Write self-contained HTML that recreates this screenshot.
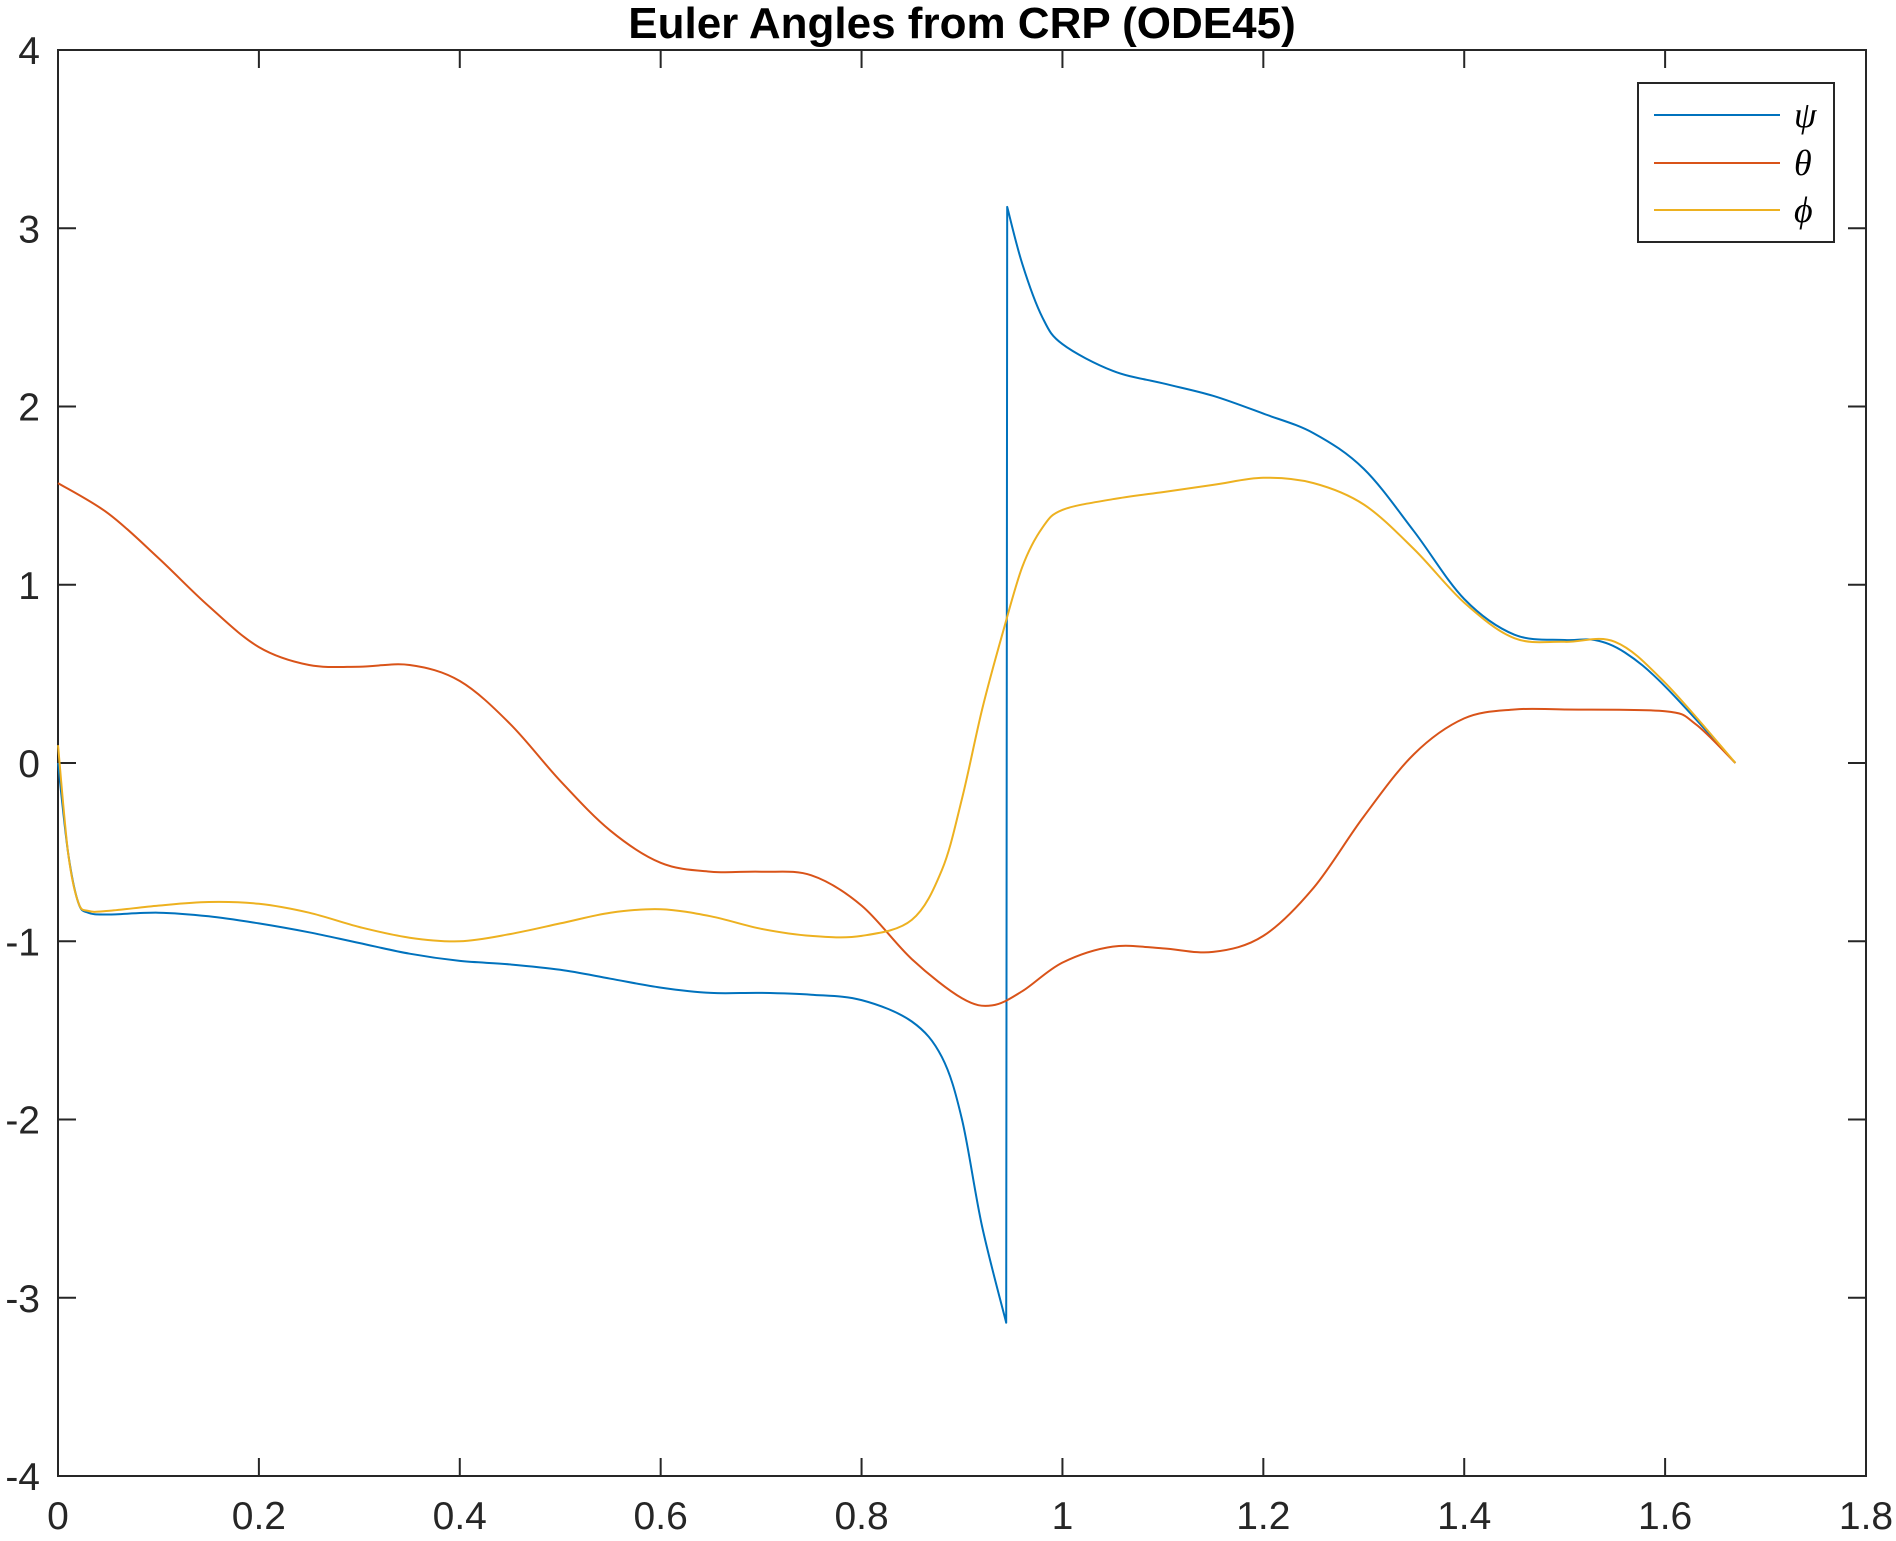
<!DOCTYPE html>
<html><head><meta charset="utf-8"><style>
html,body{margin:0;padding:0;background:#fff}
svg text{font-family:"Liberation Sans",sans-serif;fill:#262626}
</style></head><body>
<svg id="chart" width="1896" height="1536" xmlns="http://www.w3.org/2000/svg">
<rect width="1896" height="1536" fill="#fff"/>
<text x="962" y="38" text-anchor="middle" font-size="44" font-weight="bold" style="fill:#000">Euler Angles from CRP (ODE45)</text>
<g id="plot"></g>
</svg>
<script>
const xTicks=[0,0.2,0.4,0.6,0.8,1,1.2,1.4,1.6,1.8];
const yTicks=[-4,-3,-2,-1,0,1,2,3,4];
const psiT=[0,0.01,0.02,0.03,0.05,0.1,0.15,0.2,0.25,0.3,0.35,0.4,0.45,0.5,0.55,0.6,0.65,0.7,0.75,0.8,0.85,0.88,0.9,0.92,0.944,0.945,0.96,0.98,1.0,1.05,1.1,1.15,1.2,1.25,1.3,1.35,1.4,1.45,1.5,1.53,1.56,1.6,1.67];
const psiV=[0,-0.5,-0.78,-0.84,-0.85,-0.84,-0.86,-0.9,-0.95,-1.01,-1.07,-1.11,-1.13,-1.16,-1.21,-1.26,-1.29,-1.29,-1.3,-1.33,-1.45,-1.65,-2.0,-2.6,-3.14,3.12,2.8,2.5,2.35,2.2,2.13,2.06,1.96,1.85,1.65,1.3,0.92,0.72,0.69,0.69,0.62,0.43,0];
const thetaT=[0,0.05,0.1,0.15,0.2,0.25,0.3,0.35,0.4,0.45,0.5,0.55,0.6,0.65,0.7,0.75,0.8,0.85,0.9,0.93,0.96,1.0,1.05,1.1,1.15,1.2,1.25,1.3,1.35,1.4,1.45,1.5,1.6,1.63,1.67];
const thetaV=[1.57,1.4,1.15,0.88,0.65,0.55,0.54,0.55,0.46,0.22,-0.1,-0.38,-0.56,-0.61,-0.61,-0.63,-0.8,-1.1,-1.32,-1.36,-1.28,-1.12,-1.03,-1.04,-1.06,-0.97,-0.7,-0.3,0.05,0.25,0.3,0.3,0.29,0.22,0];
const phiT=[0,0.01,0.02,0.03,0.05,0.1,0.15,0.2,0.25,0.3,0.35,0.4,0.45,0.5,0.55,0.6,0.65,0.7,0.75,0.8,0.85,0.88,0.9,0.92,0.94,0.96,0.98,1.0,1.05,1.1,1.15,1.2,1.25,1.3,1.35,1.4,1.45,1.5,1.55,1.6,1.67];
const phiV=[0.1,-0.5,-0.78,-0.83,-0.83,-0.8,-0.78,-0.79,-0.84,-0.92,-0.98,-1.0,-0.96,-0.9,-0.84,-0.82,-0.86,-0.93,-0.97,-0.97,-0.88,-0.6,-0.2,0.3,0.72,1.1,1.32,1.42,1.48,1.52,1.56,1.6,1.57,1.45,1.2,0.9,0.7,0.68,0.68,0.45,0];

const L=58,R=1866,T=50,B=1476;
const xS=v=>L+(v-0)/1.8*(R-L);
const yS=v=>B-(v+4)/8*(B-T);
const NS='http://www.w3.org/2000/svg';
const g=document.getElementById('plot');
function mk(tag,attrs){const e=document.createElementNS(NS,tag);for(const k in attrs)e.setAttribute(k,attrs[k]);g.appendChild(e);return e;}

xTicks.forEach(v=>{
  const x=xS(v);
  const t1=mk('line',{x1:x,y1:B,x2:x,y2:B-18,stroke:'#262626','stroke-width':2});
  
  
  const t2=mk('line',{x1:x,y1:T,x2:x,y2:T+18,stroke:'#262626','stroke-width':2});
  
  
  const tx=mk('text',{x:x,y:B+53,'text-anchor':'middle','font-size':39});
  tx.textContent=String(v);
  
  
});
yTicks.forEach(v=>{
  const y=yS(v);
  const t1=mk('line',{x1:L,y1:y,x2:L+18,y2:y,stroke:'#262626','stroke-width':2});
  
  
  const t2=mk('line',{x1:R,y1:y,x2:R-18,y2:y,stroke:'#262626','stroke-width':2});
  
  
  const tx=mk('text',{x:L-18,y:y+14,'text-anchor':'end','font-size':39});
  tx.textContent=String(v);
  
  
});
const box=mk('rect',{x:L,y:T,width:R-L,height:B-T,fill:'none',stroke:'#262626','stroke-width':2});



function smoothPath(pts){
  let d='M'+pts[0][0].toFixed(1)+','+pts[0][1].toFixed(1);
  for(let i=0;i<pts.length-1;i++){
    const p0=pts[Math.max(0,i-1)],p1=pts[i],p2=pts[i+1],p3=pts[Math.min(pts.length-1,i+2)];
    const c1=[p1[0]+(p2[0]-p0[0])/6,p1[1]+(p2[1]-p0[1])/6];
    const c2=[p2[0]-(p3[0]-p1[0])/6,p2[1]-(p3[1]-p1[1])/6];
    d+=' C'+c1[0].toFixed(1)+','+c1[1].toFixed(1)+' '+c2[0].toFixed(1)+','+c2[1].toFixed(1)+' '+p2[0].toFixed(1)+','+p2[1].toFixed(1);
  }
  return d;
}
function series(ts,vs,color,name){
  const segs=[[]];
  ts.forEach((t,i)=>{
    if(i>0&&Math.abs(vs[i]-vs[i-1])>3){segs[segs.length-1].push('jump');segs.push([]);}
    segs[segs.length-1].push([xS(t),yS(vs[i])]);
  });
  let d='';
  segs.forEach((s,k)=>{
    const pts=s.filter(p=>p!=='jump');
    let part=smoothPath(pts);
    if(k>0)part='L'+part.slice(1);
    d+=part+' ';
  });
  const p=mk('path',{d:d,fill:'none',stroke:color,'stroke-width':2,'stroke-linejoin':'round'});
  
  
}
series(psiT,psiV,'#0072BD','psi-line');
series(thetaT,thetaV,'#D95319','theta-line');
series(phiT,phiV,'#EDB120','phi-line');

const lg=mk('rect',{x:1638,y:83,width:196,height:159,fill:'#fff',stroke:'#262626','stroke-width':2});


const leg=[['ψ','#0072BD',115],['θ','#D95319',163],['ϕ','#EDB120',210]];
leg.forEach(([s,c,y])=>{
  const l=mk('line',{x1:1654,y1:y,x2:1780,y2:y,stroke:c,'stroke-width':2});
  
  
  const t=mk('text',{x:1794,y:y+12,'font-size':36,'font-style':'italic'});
  t.style.fontFamily='"Liberation Serif","DejaVu Serif",serif';
  t.style.fill='#000';
  t.textContent=s;
  
  
});
</script>
</body></html>
